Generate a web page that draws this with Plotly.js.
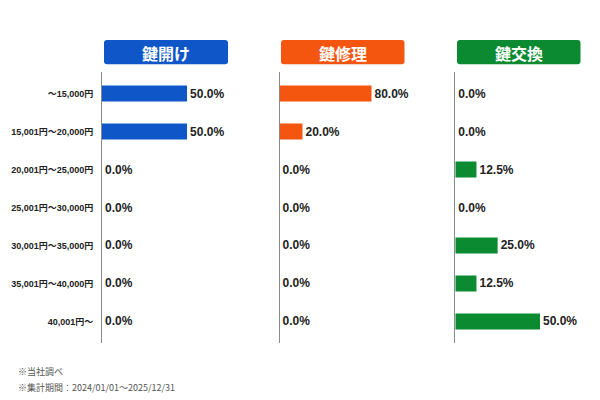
<!DOCTYPE html>
<html><head><meta charset="utf-8">
<script src="https://cdn.plot.ly/plotly-3.0.1.min.js"></script>
<style>html,body{margin:0;padding:0;background:#fff}#chart{width:600px;height:400px}</style>
</head><body><div id="chart"></div>
<script>
const categories = ["～15,000円","15,001円～20,000円","20,001円～25,000円","25,001円～30,000円","30,001円～35,000円","35,001円～40,000円","40,001円～"];
const seriesNames = ["鍵開け","鍵修理","鍵交換"];
const kagiAke = [50,50,0,0,0,0,0];
const kagiShuri = [80,20,0,0,0,0,0];
const kagiKokan = [0,0,12.5,0,25,12.5,50];
const colors = ["#0f56c9","#f4550f","#0b8a31"];
const seriesValues = [kagiAke, kagiShuri, kagiKokan];

const W = 600, H = 400;
const xDomains = [[102/W,227/W],[279.5/W,404.5/W],[455.3/W,580.3/W]];
const xRanges = [[0,73.5],[0,108.7],[0,73.8]];
const yDom = [1-342.7/H, 1-72.3/H];
const fontJP = '"Noto Sans CJK JP","Noto Sans",sans-serif';
const labelFont = '"Liberation Sans","Noto Sans CJK JP",sans-serif';
const valFont = '"Liberation Sans Narrow","Liberation Sans",Arial,sans-serif';

const traces = seriesValues.map((vals,i)=>({
  type:'bar', orientation:'h',
  x: vals, y: categories.map((c,j)=>j),
  xaxis: i===0?'x':'x'+(i+1), yaxis: i===0?'y':'y'+(i+1),
  marker:{color:colors[i]}, width:0.42,
  text: vals.map(v=>v.toFixed(1)+'%'), textposition:'outside', cliponaxis:false,
  textfont:{family:valFont,size:12,color:'#222',weight:'bold'},
  hoverinfo:'none', showlegend:false
}));

const layout = {
  width:W, height:H, margin:{l:0,r:0,t:0,b:0},
  paper_bgcolor:'#fff', plot_bgcolor:'rgba(0,0,0,0)',
  showlegend:false, shapes:[], annotations:[]
};
function roundRect(x0,y0,x1,y1,r){
  const rx=r/W, ry=r/H;
  const X0=x0/W, X1=x1/W, Y0=1-y0/H, Y1=1-y1/H;
  return `M ${X0+rx} ${Y0} L ${X1-rx} ${Y0} Q ${X1} ${Y0} ${X1} ${Y0-ry} L ${X1} ${Y1+ry} Q ${X1} ${Y1} ${X1-rx} ${Y1} L ${X0+rx} ${Y1} Q ${X0} ${Y1} ${X0} ${Y1+ry} L ${X0} ${Y0-ry} Q ${X0} ${Y0} ${X0+rx} ${Y0} Z`;
}
const headerX = [[104,228],[281,404.5],[457,580.5]];
for(let i=0;i<3;i++){
  const xa = i===0?'xaxis':'xaxis'+(i+1);
  const ya = i===0?'yaxis':'yaxis'+(i+1);
  layout[xa] = {domain:xDomains[i], range:xRanges[i], visible:false, fixedrange:true, anchor: i===0?'y':'y'+(i+1)};
  layout[ya] = {domain:yDom, range:[6.56,-0.56], anchor: i===0?'x':'x'+(i+1),
    showline:true, linecolor:'#8a8a8a', linewidth:1, showgrid:false, zeroline:false,
    tickmode:'array', tickvals:categories.map((c,j)=>j), ticktext:categories,
    showticklabels:i===0, ticks:'', ticklabelstandoff:6,
    tickfont:{family:labelFont,size:9,color:'#222',weight:'bold'}, fixedrange:true};
  const hx = headerX[i];
  layout.shapes.push({type:'path', xref:'paper', yref:'paper', path:roundRect(hx[0],40,hx[1],64.3,3), fillcolor:colors[i], line:{width:0}});
  layout.annotations.push({xref:'paper',yref:'paper',x:(hx[0]+hx[1])/2/W,y:1-53/H,xanchor:'center',yanchor:'middle',
    text:seriesNames[i],showarrow:false,font:{family:fontJP,size:16,color:'#fff',weight:'bold'}});
}
layout.annotations.push({xref:'paper',yref:'paper',x:16/W,y:1-371/H,xanchor:'left',yanchor:'middle',showarrow:false,
  text:'※当社調べ',font:{family:fontJP,size:9,color:'#555'}});
layout.annotations.push({xref:'paper',yref:'paper',x:16/W,y:1-387/H,xanchor:'left',yanchor:'middle',showarrow:false,
  text:'※集計期間：2024/01/01～2025/12/31',font:{family:fontJP,size:9,color:'#555'}});

Plotly.newPlot('chart', traces, layout, {displayModeBar:false, staticPlot:true});
</script></body></html>
